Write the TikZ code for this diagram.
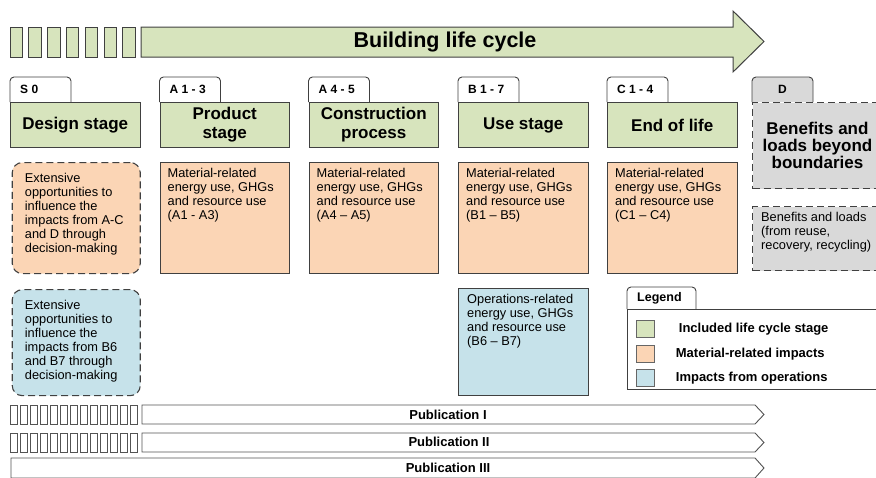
\documentclass[tikz,border=0pt]{standalone}
\usepackage{fontspec}
\setmainfont{Liberation Sans}
\usetikzlibrary{positioning,backgrounds}
\definecolor{stagegreen}{HTML}{D7E4BD}
\definecolor{matorange}{HTML}{FBD5B5}
\definecolor{opsblue}{HTML}{C6E2EA}
\definecolor{dgray}{HTML}{D9D9D9}
\definecolor{edge}{HTML}{404040}

\tikzset{
  stage/.style={draw=edge,fill=stagegreen,line width=1pt,minimum width=129.5pt,minimum height=45pt,
    inner sep=0pt,align=center,anchor=north west,font=\bfseries\fontsize{17}{19}\selectfont},
  tabline/.style={draw=edge,fill=white,line width=0.9pt,rounded corners=4pt},
  tabtext/.style={font=\bfseries\fontsize{12}{14}\selectfont,inner sep=0pt},
  impact/.style={draw=edge,line width=1pt,minimum width=129.5pt,minimum height=111pt,inner sep=0pt},
  bodytext/.style={font=\fontsize{12.8}{14}\selectfont,align=left,inner sep=0pt,anchor=north west},
  dashbox/.style={impact,dash pattern=on 7pt off 4pt,line width=1.1pt},
  pubarrow/.style={draw=edge!90,fill=white,line width=0.9pt},
  pubtext/.style={font=\bfseries\fontsize{13}{14}\selectfont,inner sep=0pt},
  legkey/.style={draw=edge!80,line width=0.7pt,minimum width=18pt,minimum height=17pt,inner sep=0pt},
  legtext/.style={font=\bfseries\fontsize{13}{14}\selectfont,inner sep=0pt,anchor=west},
}
\newcommand{\stagetab}[3]{\draw[tabline,fill=#2] (#1.north west) -- ++(0,-25) -- ++(#3,0) -- ++(0,25);}

\begin{document}
\begin{tikzpicture}[x=1pt,y=-1pt]
  \useasboundingbox (0,0) rectangle (876,477);
  \clip (0,0) rectangle (876,477);

  % life cycle arrow
  \foreach \i in {0,...,6}
    \draw[draw=edge,fill=stagegreen,line width=1pt] (10+18.8*\i,27) rectangle ++(12.5,30);
  \draw[draw=edge,fill=stagegreen,line width=1pt] (141,27) -- (733,27) -- (733,11) -- (764,41.5)
    -- (733,72) -- (733,57) -- (141,57) -- cycle;
  \node[font=\bfseries\fontsize{21.5}{24}\selectfont] (lctitle) at (445,42) {Building life cycle};

  % stages
  \node[stage] (s0) at (10,102) {Design stage};
  \node[stage] (a13) at (159.5,102) {Product\\stage};
  \node[stage] (a45) at (308.5,102) {Construction\\process};
  \node[stage] (b17) at (458,102) {Use stage};
  \node[stage] (c14) at (607,102) {End of life};
  \node[stage,fill=dgray,dash pattern=on 7pt off 4pt,minimum width=130pt,minimum height=86pt,
    font=\bfseries\fontsize{17}{17}\selectfont] (d) at (752,102)
    {Benefits and\\loads beyond\\boundaries};

  \begin{scope}[on background layer]
    \stagetab{s0}{white}{61}
    \stagetab{a13}{white}{61}
    \stagetab{a45}{white}{61}
    \stagetab{b17}{white}{61}
    \stagetab{c14}{white}{61}
    \stagetab{d}{dgray}{61}
  \end{scope}
  \node[tabtext,anchor=west] (s0lbl) at ([xshift=10pt,yshift=12.5pt]s0.north west) {S 0};
  \node[tabtext,anchor=west] (a13lbl) at ([xshift=10pt,yshift=12.5pt]a13.north west) {A 1 - 3};
  \node[tabtext,anchor=west] (a45lbl) at ([xshift=10pt,yshift=12.5pt]a45.north west) {A 4 - 5};
  \node[tabtext,anchor=west] (b17lbl) at ([xshift=10pt,yshift=12.5pt]b17.north west) {B 1 - 7};
  \node[tabtext,anchor=west] (c14lbl) at ([xshift=10pt,yshift=12.5pt]c14.north west) {C 1 - 4};
  \node[tabtext] (dlbl) at ([xshift=30.5pt,yshift=12.5pt]d.north west) {D};

  % impacts
  \node[dashbox,fill=matorange,rounded corners=10pt,minimum width=128pt,below=14pt of s0,xshift=1pt] (s0mat) {};
  \node[bodytext] (s0mattxt) at ([xshift=13pt,yshift=-11.5pt]s0mat.north west)
    {Extensive\\opportunities to\\influence the\\impacts from A-C\\and D through\\decision-making};
  \node[dashbox,fill=opsblue,rounded corners=10pt,minimum width=128pt,minimum height=106pt,below=15pt of s0mat] (s0ops) {};
  \node[bodytext] (s0opstxt) at ([xshift=13pt,yshift=-11pt]s0ops.north west)
    {Extensive\\opportunities to\\influence the\\impacts from B6\\and B7 through\\decision-making};

  \node[impact,fill=matorange,below=14pt of a13] (a13mat) {};
  \node[bodytext] (a13mattxt) at ([xshift=8pt,yshift=-6.5pt]a13mat.north west)
    {Material-related\\energy use, GHGs\\and resource use\\(A1 - A3)};
  \node[impact,fill=matorange,below=14pt of a45] (a45mat) {};
  \node[bodytext] (a45mattxt) at ([xshift=8pt,yshift=-6.5pt]a45mat.north west)
    {Material-related\\energy use, GHGs\\and resource use\\(A4 -- A5)};
  \node[impact,fill=matorange,below=14pt of b17] (b17mat) {};
  \node[bodytext] (b17mattxt) at ([xshift=8pt,yshift=-6.5pt]b17mat.north west)
    {Material-related\\energy use, GHGs\\and resource use\\(B1 -- B5)};
  \node[impact,fill=matorange,below=14pt of c14] (c14mat) {};
  \node[bodytext] (c14mattxt) at ([xshift=8pt,yshift=-6.5pt]c14mat.north west)
    {Material-related\\energy use, GHGs\\and resource use\\(C1 -- C4)};
  \node[impact,fill=opsblue,minimum height=107pt,below=14pt of b17mat] (b17ops) {};
  \node[bodytext] (b17opstxt) at ([xshift=9pt,yshift=-6.5pt]b17ops.north west)
    {Operations-related\\energy use, GHGs\\and resource use\\(B6 -- B7)};

  \node[dashbox,fill=dgray,minimum width=130pt,minimum height=64pt,anchor=north west] (dload) at (752,206) {};
  \node[bodytext] (dloadtxt) at ([xshift=9pt,yshift=-6.5pt]dload.north west)
    {Benefits and loads\\(from reuse,\\recovery, recycling)};

  % legend
  \node[draw=edge,line width=1pt,minimum width=260pt,minimum height=80pt,inner sep=0pt,anchor=north west] (legend) at (627,309) {};
  \begin{scope}[on background layer]
    \draw[tabline] (legend.north west) -- ++(0,-22) -- ++(69,0) -- ++(0,22);
  \end{scope}
  \node[tabtext,font=\bfseries\fontsize{12.5}{14}\selectfont,anchor=west] (leglbl) at ([xshift=10pt,yshift=11pt]legend.north west) {Legend};
  \node[legkey,fill=stagegreen,anchor=north west] (keystage) at (636,320) {};
  \node[legkey,fill=matorange,anchor=north west] (keymat) at (636,345) {};
  \node[legkey,fill=opsblue,anchor=north west] (keyops) at (636,369) {};
  \node[legtext] (keystagetxt) at ([xshift=24pt]keystage.east) {Included life cycle stage};
  \node[legtext] (keymattxt) at ([xshift=21pt]keymat.east) {Material-related impacts};
  \node[legtext] (keyopstxt) at ([xshift=21pt]keyops.east) {Impacts from operations};

  % publications
  \foreach \i in {0,...,12} {
    \draw[draw=edge!90,line width=0.8pt] (10+10*\i,405) rectangle ++(7,19);
    \draw[draw=edge!90,line width=0.8pt] (10+10*\i,433) rectangle ++(7,19);
  }
  \draw[pubarrow] (142,405) -- (755,405) -- (764,414.5) -- (755,424) -- (142,424) -- cycle;
  \draw[pubarrow] (142,433) -- (755,433) -- (764,442.5) -- (755,452) -- (142,452) -- cycle;
  \draw[pubarrow] (11,458) -- (755,458) -- (764,468) -- (755,478) -- (11,478) -- cycle;
  \node[pubtext] (pub1) at (448,415) {Publication I};
  \node[pubtext] (pub2) at (449,442) {Publication II};
  \node[pubtext] (pub3) at (448,468) {Publication III};
\end{tikzpicture}
\end{document}
